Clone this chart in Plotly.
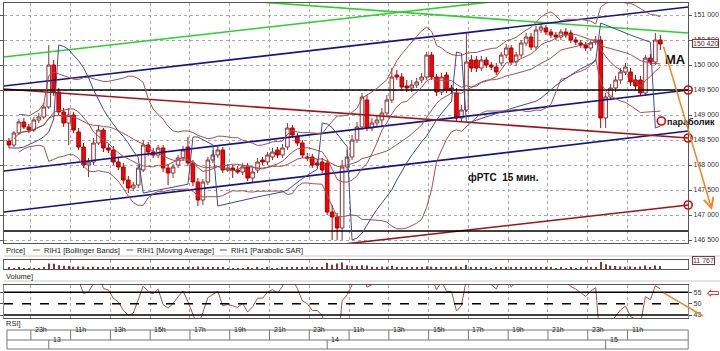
import plotly.graph_objects as go
import pandas as pd
import numpy as np

# ---------------- data (15-min candles, RIH1) ----------------
opens = [148480, 148400, 148640, 148860, 148760, 148700, 148900, 148960, 149160, 150000,
         149460, 149060, 148840, 149000, 148660, 148360, 148000, 148060, 148440, 148700,
         148340, 148300, 148060, 147960, 147700, 147540, 147600, 147900, 148400, 148260,
         148200, 148340, 147940, 147840, 148000, 148140, 148360, 148040, 147660, 147300,
         147660, 148100, 148200, 148300, 147900, 147940, 147900, 147860, 147960, 147740,
         147900, 148100, 148060, 148160, 148300, 148200, 148360, 148740, 148560, 148440,
         148160, 148160, 148040, 148060, 148040, 147060, 146960, 146740, 147960, 148160,
         148500, 148760, 149300, 148740, 148840, 148900, 149040, 149300, 149800, 149760,
         149580, 149540, 149600, 149700, 149760, 150200, 149760, 149460, 149800, 149540,
         149440, 148940, 149100, 150100, 150100, 149940, 150100, 150000, 149960, 150040,
         150200, 150340, 150060, 150200, 150440, 150560, 150360, 150700, 150740, 150660,
         150600, 150560, 150660, 150640, 150500, 150440, 150400, 150340, 150460, 150500,
         148940, 149360, 149540, 149700, 149860, 149860, 149700, 149700, 149440, 150140,
         150060, 150500]
highs = [148540, 148680, 148920, 148940, 148820, 148960, 149040, 149240, 150400, 150100,
         149540, 149140, 149140, 149060, 148740, 148440, 148140, 148540, 148800, 148740,
         148420, 148380, 148140, 148040, 147780, 147660, 148000, 148500, 148460, 148340,
         148400, 148400, 148020, 148020, 148200, 148380, 148560, 148100, 147740, 147720,
         148160, 148300, 148400, 148360, 148020, 148000, 147980, 148040, 148040, 147940,
         148140, 148160, 148260, 148340, 148360, 148420, 148840, 148800, 148640, 148500,
         148240, 148220, 148120, 148140, 148100, 147200, 147040, 148100, 148300, 148600,
         148860, 149440, 149400, 148940, 148980, 149140, 149400, 149940, 149900, 149840,
         149700, 149700, 149740, 149840, 150260, 150260, 149820, 149840, 149860, 149600,
         149540, 149200, 150660, 150200, 150180, 150180, 150160, 150060, 150040, 150260,
         150420, 150400, 150260, 150500, 150640, 150640, 150780, 150840, 150800, 150720,
         150660, 150720, 150740, 150700, 150560, 150500, 150460, 150500, 150580, 150580,
         149440, 149620, 149780, 149940, 150040, 149940, 149800, 149780, 150200, 150220,
         150640, 150600]
lows = [148340, 148360, 148600, 148720, 148640, 148660, 148840, 148920, 149120, 149380,
        149000, 148760, 148400, 148640, 148300, 147940, 147760, 148000, 148400, 148260,
        148240, 148000, 147900, 147620, 147440, 147480, 147540, 147860, 148180, 148140,
        148140, 147860, 147600, 147740, 147940, 148080, 147980, 147580, 147180, 147200,
        147600, 148040, 148140, 147840, 147860, 147740, 147820, 147800, 147680, 147660,
        147840, 148000, 148000, 148100, 148140, 148140, 148300, 148540, 148380, 148140,
        148080, 147940, 147940, 147840, 147000, 146500, 146500, 146500, 147900, 148100,
        148440, 148700, 148680, 148680, 148780, 148760, 148980, 149240, 149700, 149500,
        149460, 149460, 149540, 149640, 149700, 149700, 149380, 149400, 149440, 149420,
        148880, 148860, 149060, 149860, 149860, 149880, 149940, 149900, 149800, 149980,
        150140, 150000, 149980, 150140, 150380, 150300, 150300, 150640, 150600, 150540,
        150500, 150500, 150540, 150440, 150400, 150340, 150280, 150280, 150400, 148740,
        148740, 149300, 149460, 149620, 149800, 149580, 149500, 149380, 149380, 150000,
        150000, 150300]
closes = [148400, 148640, 148860, 148760, 148700, 148900, 148960, 149160, 150000, 149460,
          149060, 148840, 149000, 148700, 148360, 148000, 148060, 148440, 148700, 148340,
          148300, 148060, 147960, 147700, 147540, 147600, 147940, 148400, 148260, 148200,
          148340, 147940, 147840, 147960, 148140, 148300, 148040, 147660, 147300, 147660,
          148100, 148200, 148300, 147900, 147940, 147900, 147860, 147960, 147740, 147860,
          148060, 148060, 148200, 148260, 148200, 148340, 148740, 148600, 148440, 148200,
          148140, 148000, 148000, 147900, 147060, 146960, 146740, 147960, 148160, 148500,
          148760, 149360, 148740, 148840, 148900, 149040, 149300, 149760, 149760, 149560,
          149540, 149600, 149660, 149760, 150200, 149760, 149460, 149760, 149500, 149500,
          148940, 149100, 150060, 149940, 149940, 150100, 150000, 149960, 149860, 150200,
          150340, 150060, 150200, 150440, 150560, 150360, 150700, 150760, 150660, 150600,
          150560, 150660, 150600, 150500, 150460, 150400, 150340, 150440, 150500, 148940,
          149360, 149540, 149700, 149860, 149960, 149660, 149580, 149440, 150140, 150060,
          150500, 150420]
volumes = [4500, 3800, 5500, 3300, 3000, 4000, 3500, 6200, 22500, 21000,
           15000, 13000, 12000, 8800, 9800, 10500, 7500, 9000, 7000, 7800,
           5000, 6500, 5800, 8500, 7500, 4500, 6800, 9500, 5500, 4300,
           4800, 7200, 6500, 5000, 4500, 5200, 7500, 8200, 10200, 9000,
           7200, 5000, 4300, 6500, 3800, 4000, 3300, 3500, 5200, 4000,
           4800, 3500, 4300, 3800, 4000, 4500, 8500, 6200, 5500, 7000,
           4500, 6000, 5000, 6500, 23800, 17500, 22000, 26000, 15500, 13500,
           12000, 15200, 14000, 8800, 7000, 9800, 9200, 13000, 6500, 7500,
           5200, 4800, 4500, 5500, 10800, 9500, 8000, 6800, 6000, 4800,
           10000, 6500, 16000, 7800, 6200, 5500, 4500, 4000, 5000, 5800,
           6500, 6000, 4800, 7000, 6200, 5500, 7500, 5200, 4800, 4300,
           4000, 4500, 3800, 4800, 4000, 4300, 4800, 5000, 6500, 28000,
           19500, 13000, 11800, 10400, 9200, 9800, 8200, 10000, 13600, 7800,
           14400, 11767]

price_ticks = [146500, 147000, 147500, 148000, 148500, 149000, 149500, 150000, 150500, 151000]
price_tick_text = ["146 500", "147 000", "147 500", "148 000", "148 500",
                   "149 000", "149 500", "150 000", "150 500", "151 000"]
time_tick_pos = [4.4, 12.4, 20.4, 28.4, 36.4, 44.4, 52.4, 60.4,
                 68.4, 76.4, 84.4, 92.4, 100.4, 108.4, 116.4, 124.4]
time_tick_labels = ["23h", "11h", "13h", "15h", "17h", "19h", "21h", "23h",
                    "11h", "13h", "15h", "17h", "19h", "21h", "23h", "11h"]
day_pos = [8, 64, 120]
day_labels = ["13", "14", "15"]
rsi_ticks = [45, 50, 55]

# hand-drawn trend lines (index, price)
tl_x0 = [-1, 40, -1, -1, -1, -1, 60, -1, -1]
tl_p0 = [150160, 151334, 149580, 147880, 147060, 149520, 146336, 149500, 146680]
tl_x1 = [136.6, 136.6, 136.6, 136.6, 136.6, 136.6, 136.6, 136.6, 136.6]
tl_p1 = [151708, 150640, 151160, 149500, 148680, 148540, 147200, 149500, 146680]
tl_col = ["#2BD12B", "#2BD12B", "#14148C", "#14148C", "#14148C",
          "#A01414", "#A01414", "#000000", "#000000"]
marker_x = [136.6, 136.6, 136.6, 131.2]
marker_p = [149500, 148540, 147200, 148880]

current_price = 150420
last_volume = "11 767"

# ---------------- indicators ----------------
idx = list(range(len(closes)))
c = pd.Series(closes, dtype=float)
bb_mid = c.rolling(20, min_periods=3).mean()
bb_sd = c.rolling(20, min_periods=3).std(ddof=0)
bb_up = bb_mid + 2 * bb_sd
bb_lo = bb_mid - 2 * bb_sd
ma = c.rolling(9, min_periods=2).mean()

delta = c.diff()
gain = delta.clip(lower=0)
loss = -delta.clip(upper=0)
ag = gain.ewm(alpha=1 / 14, adjust=False).mean()
al = loss.ewm(alpha=1 / 14, adjust=False).mean()
rsi = 100 - 100 / (1 + ag / al.replace(0, np.nan))


def psar(h, l, step=0.02, amax=0.2):
    n = len(h)
    out = [None] * n
    bull = h[1] >= h[0]
    af = step
    ep = h[0] if bull else l[0]
    sar = l[0] if bull else h[0]
    out[0] = sar
    for i in range(1, n):
        sar = sar + af * (ep - sar)
        if bull:
            sar = min(sar, l[i - 1], l[i - 2] if i >= 2 else l[i - 1])
            if l[i] < sar:
                bull, sar, ep, af = False, ep, l[i], step
            elif h[i] > ep:
                ep = h[i]
                af = min(af + step, amax)
        else:
            sar = max(sar, h[i - 1], h[i - 2] if i >= 2 else h[i - 1])
            if h[i] > sar:
                bull, sar, ep, af = True, ep, h[i], step
            elif l[i] < ep:
                ep = l[i]
                af = min(af + step, amax)
        out[i] = sar
    return out


sar = psar(highs, lows)

# ---------------- figure ----------------
W, H = 720, 351
XR = [-1, 136.6]
PLOT_R = 688 / W


def py(p):  # pixel row -> paper y
    return 1 - p / H


fig = go.Figure()
BROWN = "#A0524D"

for k in range(len(tl_x0)):
    fig.add_trace(go.Scatter(x=[tl_x0[k], tl_x1[k]], y=[tl_p0[k], tl_p1[k]], mode="lines",
                             line=dict(color=tl_col[k], width=1.6), hoverinfo="skip",
                             xaxis="x", yaxis="y"))

for s in (bb_up, bb_lo, bb_mid, ma):
    fig.add_trace(go.Scatter(x=idx, y=s, mode="lines", line=dict(color=BROWN, width=1),
                             hoverinfo="skip", xaxis="x", yaxis="y"))
fig.add_trace(go.Scatter(x=idx, y=sar, mode="lines", line=dict(color="#3C4A9E", width=1),
                         hoverinfo="skip", xaxis="x", yaxis="y"))

fig.add_trace(go.Candlestick(
    x=idx, open=opens, high=highs, low=lows, close=closes,
    increasing=dict(line=dict(color="#8B3333", width=1), fillcolor="#FFFFFF"),
    decreasing=dict(line=dict(color="#B00000", width=1), fillcolor="#FF0000"),
    whiskerwidth=0, hoverinfo="skip", xaxis="x", yaxis="y"))

fig.add_trace(go.Scatter(x=marker_x, y=marker_p, mode="markers", cliponaxis=False,
                         marker=dict(symbol="circle-open", size=8, color="#E00000",
                                     line=dict(width=1.6, color="#E00000")),
                         hoverinfo="skip", xaxis="x", yaxis="y"))

fig.add_trace(go.Bar(x=idx, y=volumes, marker=dict(color="#8B3333", line=dict(width=0)),
                     width=0.25, hoverinfo="skip", xaxis="x2", yaxis="y2"))

fig.add_trace(go.Scatter(x=idx, y=rsi, mode="lines", line=dict(color=BROWN, width=1),
                         hoverinfo="skip", xaxis="x3", yaxis="y3"))

FONT = "Liberation Sans"
grid = dict(showgrid=True, gridcolor="#A8A8A8", griddash="dot", gridwidth=1)
xcommon = dict(domain=[0, PLOT_R], range=XR, tickvals=time_tick_pos, showticklabels=False,
               ticks="", zeroline=False, showline=True, mirror=True, linecolor="#555", **grid)

fig.update_layout(
    width=W, height=H, margin=dict(l=0, r=0, t=0, b=0), autosize=False,
    paper_bgcolor="white", plot_bgcolor="white", showlegend=False,
    boxgap=0.2, boxgroupgap=0.1,
    font=dict(family=FONT, size=7.5, color="#222"),
    xaxis=dict(anchor="y", rangeslider=dict(visible=False), **xcommon),
    xaxis2=dict(anchor="y2", **xcommon),
    xaxis3=dict(anchor="y3", **xcommon),
    yaxis=dict(anchor="x", domain=[py(243), py(3)], range=[146440, 151240], side="right",
               tickvals=price_ticks, ticktext=price_tick_text, ticks="outside", ticklen=3,
               tickcolor="#555", tickfont=dict(size=7, color="#333"), showline=True,
               mirror="ticks", linecolor="#555", zeroline=False, **grid),
    yaxis2=dict(anchor="x2", domain=[py(269), py(260)], range=[0, 36000], side="right",
                showticklabels=False, showgrid=False, zeroline=False, showline=True,
                mirror=True, linecolor="#666", ticks=""),
    yaxis3=dict(anchor="x3", domain=[py(318), py(285)], range=[43.7, 58.2], side="right",
                tickvals=rsi_ticks, ticks="outside", ticklen=3, tickcolor="#555",
                tickfont=dict(size=7, color="#333"), showgrid=False, zeroline=False,
                showline=True, mirror="ticks", linecolor="#888"),
)

shapes = []
# RSI levels
for lvl, dash in ((55, "solid"), (45, "solid"), (50, "dash")):
    shapes.append(dict(type="line", xref="x3", yref="y3", x0=XR[0], x1=XR[1], y0=lvl, y1=lvl,
                       line=dict(color="#000", width=1.5, dash=dash)))
# time axis rows
for yy in (330, 340, 349):
    shapes.append(dict(type="line", xref="paper", yref="paper", x0=3 / W, x1=PLOT_R,
                       y0=py(yy), y1=py(yy), line=dict(color="#777", width=1)))
for xx in (3 / W, PLOT_R):
    shapes.append(dict(type="line", xref="paper", yref="paper", x0=xx, x1=xx,
                       y0=py(349), y1=py(330), line=dict(color="#777", width=1)))
for p in time_tick_pos:
    shapes.append(dict(type="line", xref="x", yref="paper", x0=p, x1=p, y0=py(340), y1=py(330),
                       line=dict(color="#777", width=1)))
for p in day_pos:
    shapes.append(dict(type="line", xref="x", yref="paper", x0=p, x1=p, y0=py(349), y1=py(340),
                       line=dict(color="#777", width=1)))
# separators
for yy in (256, 281):
    shapes.append(dict(type="line", xref="paper", yref="paper", x0=0, x1=1, y0=py(yy), y1=py(yy),
                       line=dict(color="#C8C8C8", width=1)))
# legend samples
for x0, col in ((29, BROWN), (123, BROWN), (217, "#3C4A9E")):
    shapes.append(dict(type="line", xref="paper", yref="paper", x0=x0 / W, x1=(x0 + 7) / W,
                       y0=py(250), y1=py(250), line=dict(color=col, width=1)))
fig.update_layout(shapes=shapes)

ann = []
for p, t in zip(time_tick_pos, time_tick_labels):
    ann.append(dict(x=p, y=py(335), xref="x", yref="paper", text=t, showarrow=False,
                    xanchor="left", xshift=2, font=dict(size=7)))
for p, t in zip(day_pos, day_labels):
    ann.append(dict(x=p, y=py(344.5), xref="x", yref="paper", text=t, showarrow=False,
                    xanchor="left", xshift=2, font=dict(size=7)))
for x0, t, yy in ((0, "Price]", 250), (38, "RIH1 [Bollinger Bands]", 250),
                  (132, "RIH1 [Moving Average]", 250), (226, "RIH1 [Parabolic SAR]", 250),
                  (0, "Volume]", 276), (0, "RSI]", 323)):
    ann.append(dict(x=x0 / W, y=py(yy), xref="paper", yref="paper", text=t, showarrow=False,
                    xanchor="left", yanchor="middle", font=dict(size=7.5, color="#222")))
# value boxes
ann.append(dict(x=692 / W, y=current_price, xref="paper", yref="y",
                text=f"{current_price:,}".replace(",", " "), showarrow=False, xanchor="left",
                bordercolor="#8B3333", borderwidth=1, borderpad=0, bgcolor="white",
                font=dict(size=7, color="#333")))
ann.append(dict(x=692 / W, y=py(265), xref="paper", yref="paper", text=last_volume,
                showarrow=False, xanchor="left", bordercolor="#8B3333", borderwidth=1,
                borderpad=0, bgcolor="white", font=dict(size=7, color="#333")))
# chart notes
ann.append(dict(x=131.6, y=150100, xref="x", yref="y", text="<b>MA</b>", showarrow=False,
                xanchor="left", font=dict(size=13, color="#111", family=FONT)))
ann.append(dict(x=132.0, y=148860, xref="x", yref="y", text="<b>параболик</b>",
                showarrow=False, xanchor="left",
                font=dict(size=9, color="#111", family=FONT)))
ann.append(dict(x=92, y=147760, xref="x", yref="y", text="<b>фРТС\u00a0\u00a015 мин.</b>",
                showarrow=False, xanchor="left", font=dict(size=10, color="#111", family=FONT)))
# orange forecast arrows
ann.append(dict(x=712 / W, y=py(210), xref="paper", yref="paper", ax=-49, ay=-165,
                text="", showarrow=True, arrowhead=5, arrowsize=1.3, arrowwidth=1.5,
                arrowcolor="#F28522"))
ann.append(dict(x=703 / W, y=py(316), xref="paper", yref="paper", ax=-41, ay=-24,
                text="", showarrow=True, arrowhead=0, arrowwidth=1.5, arrowcolor="#F28522"))
ann.append(dict(x=705 / W, y=py(292), xref="paper", yref="paper", text="⇦", showarrow=False,
                xanchor="left", yanchor="middle", yshift=-1,
                font=dict(size=15, color="#E00000", family="DejaVu Sans")))
fig.update_layout(annotations=ann)

fig.write_html("out.html")
